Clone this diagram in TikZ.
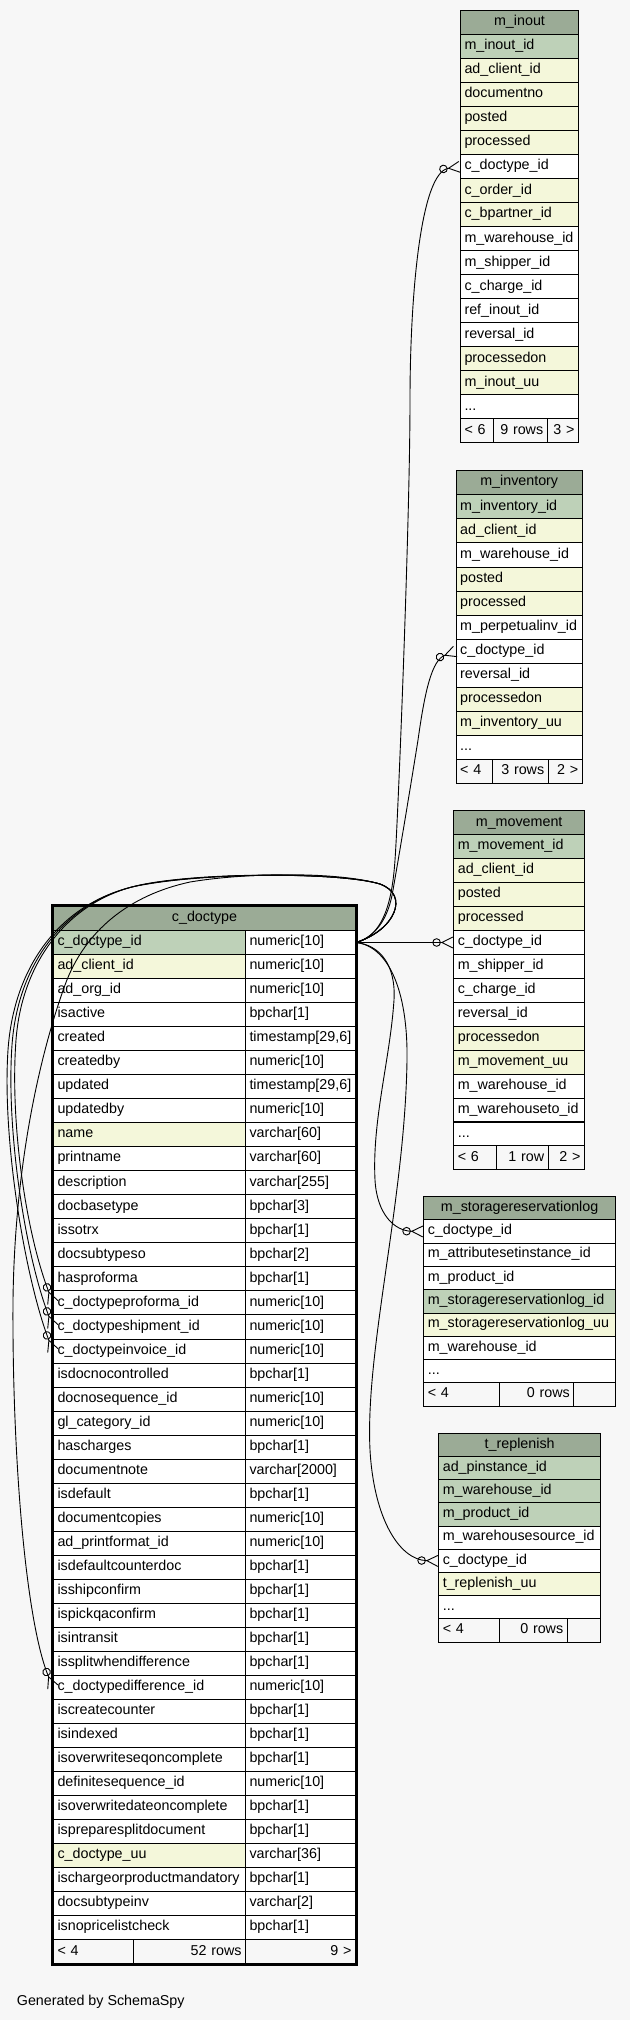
\documentclass[tikz,border=0pt]{standalone}
\usepackage{fontspec}
\setmainfont{Liberation Sans}
\usepackage{tikz}
\usetikzlibrary{arrows.meta}

\definecolor{hdrc}{HTML}{9BAB96}
\definecolor{pkc}{HTML}{BED1B8}
\definecolor{ixc}{HTML}{F4F7DA}
\definecolor{bgc}{HTML}{F7F7F7}

\begin{document}
\begin{tikzpicture}[x=1pt, y=-1pt,
    every node/.style={font=\fontsize{14.3}{17}\selectfont},
    cell/.style={draw, line width=1pt, anchor=north west, inner xsep=4pt, inner ysep=0pt,
                 align=left, text height=10.2pt, text depth=3.8pt},
    hdr/.style={cell, fill=hdrc, align=center},
    ft/.style={cell, fill=bgc},
    fk/.style={line width=0.9pt, -{Circle[open, length=8.5pt, width=8.5pt] Straight Barb[reversed, length=11pt, width=11pt]}},
]
\fill[bgc] (0,0) rectangle (630,2020);
\useasboundingbox (0,0) rectangle (630,2020);

% m_inout
\node[hdr, text width=110pt, minimum height=24pt] (io) at (460,10.3) {m\_inout};
\foreach \nm/\cl [count=\i] in {m\_inout\_id/pkc, ad\_client\_id/ixc, documentno/ixc, posted/ixc, processed/ixc, c\_doctype\_id/white, c\_order\_id/ixc, c\_bpartner\_id/ixc, m\_warehouse\_id/white, m\_shipper\_id/white, c\_charge\_id/white, ref\_inout\_id/white, reversal\_id/white, processedon/ixc, m\_inout\_uu/ixc}
  \node[cell, fill=\cl, text width=110pt, minimum height=24pt] (io\i) at (460,{10.3+\i*24}) {\nm};
\node[cell, fill=white, text width=110pt, minimum height=24pt] (io16) at (460,394.3) {...};
\node[ft, text width=25.3pt, minimum height=24pt] (iof1) at (460,418.3) {< 6};
\node[ft, text width=45.4pt, minimum height=24pt, align=right] (iof2) at (493.3,418.3) {9 rows};
\node[ft, text width=23.3pt, minimum height=24pt, align=right] (iof3) at (546.7,418.3) {3 >};

% m_inventory
\node[hdr, text width=118pt, minimum height=24.08pt] (iv) at (455.7,470.2) {m\_inventory};
\foreach \nm/\cl [count=\i] in {m\_inventory\_id/pkc, ad\_client\_id/ixc, m\_warehouse\_id/white, posted/ixc, processed/ixc, m\_perpetualinv\_id/white, c\_doctype\_id/white, reversal\_id/white, processedon/ixc, m\_inventory\_uu/ixc}
  \node[cell, fill=\cl, text width=118pt, minimum height=24.08pt] (iv\i) at (455.7,{470.22+\i*24.08}) {\nm};
\node[cell, fill=white, text width=118pt, minimum height=24.08pt] (iv11) at (455.7,735.1) {...};
\node[ft, text width=28pt, minimum height=24.08pt] (ivf1) at (455.7,759.2) {< 4};
\node[ft, text width=48pt, minimum height=24.08pt, align=right] (ivf2) at (491.7,759.2) {3 rows};
\node[ft, text width=26pt, minimum height=24.08pt, align=right] (ivf3) at (547.7,759.2) {2 >};

% m_movement
\node[hdr, text width=122.7pt, minimum height=23.93pt] (mv) at (453.3,810.37) {m\_movement};
\foreach \nm/\cl [count=\i] in {m\_movement\_id/pkc, ad\_client\_id/ixc, posted/ixc, processed/ixc, c\_doctype\_id/white, m\_shipper\_id/white, c\_charge\_id/white, reversal\_id/white, processedon/ixc, m\_movement\_uu/ixc, m\_warehouse\_id/white, m\_warehouseto\_id/white}
  \node[cell, fill=\cl, text width=122.7pt, minimum height=23.93pt] (mv\i) at (453.3,{810.37+\i*23.93}) {\nm};
\node[cell, fill=white, text width=122.7pt, minimum height=23.93pt] (mv13) at (453.3,1121.5) {...};
\node[ft, text width=34.7pt, minimum height=23.93pt] (mvf1) at (453.3,1145.4) {< 6};
\node[ft, text width=43.7pt, minimum height=23.93pt, align=right] (mvf2) at (496,1145.4) {1 row};
\node[ft, text width=28.3pt, minimum height=23.93pt, align=right] (mvf3) at (547.7,1145.4) {2 >};

% m_storagereservationlog
\node[hdr, text width=183.7pt, minimum height=23.3pt] (sr) at (423.3,1196) {m\_storagereservationlog};
\foreach \nm/\cl [count=\i] in {c\_doctype\_id/white, m\_attributesetinstance\_id/white, m\_product\_id/white, m\_storagereservationlog\_id/pkc, m\_storagereservationlog\_uu/ixc, m\_warehouse\_id/white}
  \node[cell, fill=\cl, text width=183.7pt, minimum height=23.3pt] (sr\i) at (423.3,{1196+\i*23.3}) {\nm};
\node[cell, fill=white, text width=183.7pt, minimum height=23.3pt] (sr7) at (423.3,1359.1) {...};
\node[ft, text width=67.4pt, minimum height=23.3pt] (srf1) at (423.3,1382.4) {< 4};
\node[ft, text width=66.6pt, minimum height=23.3pt, align=right] (srf2) at (498.7,1382.4) {0 rows};
\node[ft, text width=33.7pt, minimum height=23.3pt, align=right] (srf3) at (573.3,1382.4) {};

% t_replenish
\node[hdr, text width=153.7pt, minimum height=23.2pt] (tr) at (438.3,1432.8) {t\_replenish};
\foreach \nm/\cl [count=\i] in {ad\_pinstance\_id/pkc, m\_warehouse\_id/pkc, m\_product\_id/pkc, m\_warehousesource\_id/white, c\_doctype\_id/white, t\_replenish\_uu/ixc}
  \node[cell, fill=\cl, text width=153.7pt, minimum height=23.2pt] (tr\i) at (438.3,{1432.8+\i*23.2}) {\nm};
\node[cell, fill=white, text width=153.7pt, minimum height=23.2pt] (tr7) at (438.3,1595.2) {...};
\node[ft, text width=52.4pt, minimum height=23.2pt] (trf1) at (438.3,1618.4) {< 4};
\node[ft, text width=60pt, minimum height=23.2pt, align=right] (trf2) at (498.7,1618.4) {0 rows};
\node[ft, text width=25.3pt, minimum height=23.2pt, align=right] (trf3) at (566.7,1618.4) {};

% c_doctype
\node[hdr, text width=294pt, minimum height=24pt] (cd) at (53,906) {c\_doctype};
\foreach \nm/\ty/\cl [count=\i] in {c\_doctype\_id/numeric[10]/pkc, ad\_client\_id/numeric[10]/ixc, ad\_org\_id/numeric[10]/white, isactive/bpchar[1]/white, created/{timestamp[29,6]}/white, createdby/numeric[10]/white, updated/{timestamp[29,6]}/white, updatedby/numeric[10]/white, name/varchar[60]/ixc, printname/varchar[60]/white, description/varchar[255]/white, docbasetype/bpchar[3]/white, issotrx/bpchar[1]/white, docsubtypeso/bpchar[2]/white, hasproforma/bpchar[1]/white, c\_doctypeproforma\_id/numeric[10]/white, c\_doctypeshipment\_id/numeric[10]/white, c\_doctypeinvoice\_id/numeric[10]/white, isdocnocontrolled/bpchar[1]/white, docnosequence\_id/numeric[10]/white, gl\_category\_id/numeric[10]/white, hascharges/bpchar[1]/white, documentnote/varchar[2000]/white, isdefault/bpchar[1]/white, documentcopies/numeric[10]/white, ad\_printformat\_id/numeric[10]/white, isdefaultcounterdoc/bpchar[1]/white, isshipconfirm/bpchar[1]/white, ispickqaconfirm/bpchar[1]/white, isintransit/bpchar[1]/white, issplitwhendifference/bpchar[1]/white, c\_doctypedifference\_id/numeric[10]/white, iscreatecounter/bpchar[1]/white, isindexed/bpchar[1]/white, isoverwriteseqoncomplete/bpchar[1]/white, definitesequence\_id/numeric[10]/white, isoverwritedateoncomplete/bpchar[1]/white, ispreparesplitdocument/bpchar[1]/white, c\_doctype\_uu/varchar[36]/ixc, ischargeorproductmandatory/bpchar[1]/white, docsubtypeinv/varchar[2]/white, isnopricelistcheck/bpchar[1]/white}
  {\node[cell, fill=\cl, text width=184pt, minimum height=24.03pt] (cd\i) at (53,{905.97+\i*24.03}) {\nm};
   \node[cell, fill=white, text width=102pt, minimum height=24.03pt] (cdt\i) at (245,{905.97+\i*24.03}) {\ty};}
\node[ft, text width=72.3pt, minimum height=24.03pt] (cdf1) at (53,1939.26) {< 4};
\node[ft, text width=103.7pt, minimum height=24.03pt, align=right] (cdf2) at (133.3,1939.26) {52 rows};
\node[ft, text width=102pt, minimum height=24.03pt, align=right] (cdf3) at (245,1939.26) {9 >};
\draw[line width=2.6pt] (51.8,905.5) rectangle (356.2,1964.5);

% references to c_doctype
\draw[fk] (cdt1.east) .. controls (382,936) and (392,905) .. (395,860) .. controls (398,820) and (410,520) .. (410,400) .. controls (410,300) and (420,172) .. (io6.west);
\draw[fk] (cdt1.east) .. controls (378,936) and (389,915) .. (393,890) .. controls (400,850) and (410,790) .. (418,740) .. controls (425,690) and (432,660) .. (iv7.west);
\draw[fk] (cdt1.east) -- (mv5.west);
\draw[fk] (cdt1.east) .. controls (380,945) and (396,965) .. (394,1000) .. controls (390,1060) and (372,1120) .. (375,1180) .. controls (377,1215) and (395,1231) .. (sr1.west);
\draw[fk] (cdt1.east) .. controls (388,946) and (408,990) .. (407,1060) .. controls (405,1200) and (365,1350) .. (370,1450) .. controls (374,1520) and (400,1560) .. (tr5.west);
\draw[fk] (cdt1.east) .. controls (395,930) and (410,895) .. (380,884) .. controls (340,872) and (200,872) .. (140,885) .. controls (70,900) and (22,960) .. (16,1040) .. controls (10,1120) and (25,1230) .. (cd16.west);
\draw[fk] (cdt1.east) .. controls (395,930) and (410,895) .. (380,884) .. controls (340,872) and (200,872) .. (136,886) .. controls (66,902) and (18,962) .. (12,1045) .. controls (6,1130) and (25,1254) .. (cd17.west);
\draw[fk] (cdt1.east) .. controls (395,930) and (410,895) .. (380,884) .. controls (340,872) and (200,872) .. (132,887) .. controls (62,904) and (14,964) .. (8,1050) .. controls (2,1140) and (25,1278) .. (cd18.west);
\draw[fk] (cdt1.east) .. controls (395,930) and (410,895) .. (380,884) .. controls (340,872) and (250,872) .. (190,882) .. controls (130,895) and (85,930) .. (65,985) .. controls (45,1040) and (15,1150) .. (13,1300) .. controls (12,1450) and (25,1620) .. (cd32.west);

\node[anchor=base west, inner sep=0pt] (gen) at (16.7,2005.3) {Generated by SchemaSpy};
\end{tikzpicture}
\end{document}
